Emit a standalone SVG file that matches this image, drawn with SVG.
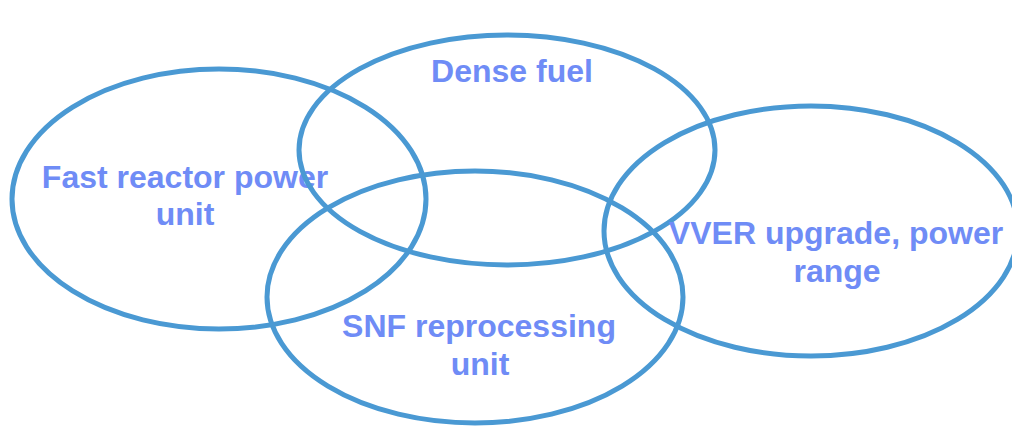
<svg xmlns="http://www.w3.org/2000/svg" width="1012" height="427" viewBox="0 0 1012 427">
<style>
.e{fill:none;stroke:#4A99D3;stroke-width:5}
.t{font-family:"Liberation Sans",Arial,sans-serif;font-weight:bold;font-size:32px;fill:#6F8CF6;text-anchor:middle}
</style>
<rect width="1012" height="427" fill="#fff"/>
<g id="fast-reactor">
<ellipse class="e" cx="219" cy="199" rx="207" ry="130"/>
<text class="t" x="185" y="188">Fast reactor power</text>
<text class="t" x="185" y="225">unit</text>
</g>
<g id="dense-fuel">
<ellipse class="e" cx="507" cy="150" rx="208" ry="115"/>
<text class="t" x="512" y="82">Dense fuel</text>
</g>
<g id="snf">
<ellipse class="e" cx="475" cy="297" rx="208" ry="126"/>
<text class="t" x="479" y="337">SNF reprocessing</text>
<text class="t" x="480" y="375">unit</text>
</g>
<g id="vver">
<ellipse class="e" cx="811" cy="231" rx="207" ry="125"/>
<text class="t" x="836" y="244">VVER upgrade, power</text>
<text class="t" x="837" y="282">range</text>
</g>
<g id="connectors"></g>
</svg>
